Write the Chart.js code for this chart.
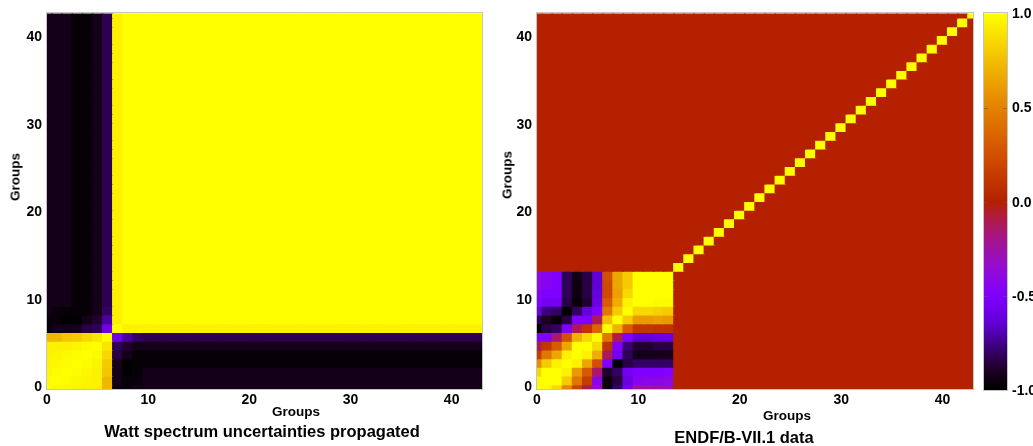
<!DOCTYPE html>
<html>
<head>
<meta charset="utf-8">
<script src="https://cdn.jsdelivr.net/npm/chart.js@4.4.0/dist/chart.umd.min.js"></script>
<style>
  body { margin: 0; background: #fff; }
  #page { position: relative; width: 1033px; height: 446px; overflow: hidden;
          font-family: "Liberation Sans", Arial, sans-serif; font-weight: bold; color: #000; }
  .panel { position: absolute; top: 0; }
  .txt { position: absolute; transform: translate(-50%, -50%); white-space: nowrap; }
  .axis { font-size: 13.5px; }
  .title { font-size: 16.5px; }
  .vert { transform: translate(-50%, -50%) rotate(-90deg); }
</style>
</head>
<body>
<div id="page">
  <canvas id="wattChart" class="panel" width="490" height="446" style="left:0"></canvas>
  <canvas id="endfChart" class="panel" width="490" height="446" style="left:490px"></canvas>
  <canvas id="scaleChart" class="panel" width="53" height="446" style="left:980px"></canvas>

  <div class="txt axis vert" style="left:15px;top:177px">Groups</div>
  <div class="txt axis" style="left:296px;top:411px">Groups</div>
  <div class="txt title" style="left:262px;top:431px">Watt spectrum uncertainties propagated</div>

  <div class="txt axis vert" style="left:507px;top:175px">Groups</div>
  <div class="txt axis" style="left:787px;top:415px">Groups</div>
  <div class="txt title" style="left:744px;top:437px">ENDF/B-VII.1 data</div>
</div>
<script>
// groups 0..43, axis shown from 0 to 43
const groupCount = 44;
const groupAxisMax = 43;
const groupTicks = [0, 10, 20, 30, 40];
const colorTicks = [-1, -0.5, 0, 0.5, 1];

// colour map (value -> rgb)
const paletteStops = [-1, -0.9, -0.8, -0.65, -0.5, -0.35, -0.2, -0.08, 0, 0.25, 0.5, 0.75, 1];
const paletteRgb = [
  [0, 0, 0], [28, 0, 34], [52, 0, 100], [96, 0, 212], [128, 0, 255], [148, 12, 210],
  [165, 20, 140], [176, 28, 64], [180, 32, 0], [210, 80, 0], [228, 130, 0], [242, 190, 0], [255, 255, 0]
];

// --- left: Watt spectrum, groups 0-6 (fast) and 7-43 (slow) ---
const wattFastBlock = [
  [1.00, 0.98, 0.97, 0.96, 0.95, 0.95, 0.72],
  [0.98, 1.00, 0.99, 0.97, 0.96, 0.95, 0.72],
  [0.97, 0.99, 1.00, 0.99, 0.97, 0.95, 0.78],
  [0.96, 0.97, 0.99, 1.00, 0.99, 0.96, 0.80],
  [0.95, 0.96, 0.97, 0.99, 1.00, 0.98, 0.85],
  [0.95, 0.95, 0.95, 0.96, 0.98, 1.00, 0.90],
  [0.72, 0.72, 0.78, 0.80, 0.85, 0.90, 1.00]
];
// fast groups 0-6 against slow groups 7, 8, 9
const wattCrossNear = [
  [-0.97, -0.97, -0.93],
  [-0.93, -0.97, -0.97],
  [-0.93, -1.00, -0.98],
  [-0.92, -1.00, -0.98],
  [-0.85, -0.93, -0.98],
  [-0.82, -0.88, -0.93],
  [-0.58, -0.72, -0.80]
];
// fast groups 0-6 against slow groups 10-43
const wattCrossFar = [-0.93, -0.93, -0.93, -0.98, -0.98, -0.93, -0.83];
// group 7 against the other slow groups
const wattSlowEdge = 0.95;

// --- right: ENDF/B-VII.1, groups 0-13 block (row 0 first), diagonal elsewhere ---
const endfBlock = [
  [1.00, 0.98, 0.85, 0.52, 0.20, -0.10, -0.35, -1.00, -0.80, -0.55, -0.22, -0.22, -0.25, -0.30],
  [0.98, 1.00, 1.00, 0.80, 0.45, 0.15, -0.42, -0.95, -0.85, -0.60, -0.45, -0.42, -0.42, -0.40],
  [0.85, 1.00, 1.00, 0.95, 0.60, 0.30, -0.15, -0.88, -0.80, -0.55, -0.50, -0.50, -0.50, -0.48],
  [0.55, 0.80, 0.95, 1.00, 0.95, 0.65, 0.25, -0.50, -1.00, -0.85, -0.80, -0.80, -0.80, -0.80],
  [0.15, 0.45, 0.65, 0.95, 1.00, 0.95, 0.68, -0.12, -0.55, -0.82, -0.93, -0.93, -0.93, -0.92],
  [-0.10, 0.12, 0.30, 0.65, 1.00, 1.00, 0.85, 0.10, -0.50, -0.78, -0.88, -0.88, -0.85, -0.85],
  [-0.50, -0.48, -0.15, 0.25, 0.70, 0.85, 1.00, 0.45, -0.10, -0.50, -0.65, -0.65, -0.62, -0.60],
  [-1.00, -0.85, -0.80, -0.50, -0.12, 0.10, 0.35, 1.00, 0.70, 0.30, 0.12, 0.12, 0.10, 0.10],
  [-0.82, -0.90, -0.98, -0.85, -0.50, -0.50, -0.10, 0.75, 1.00, 0.80, 0.60, 0.60, 0.62, 0.60],
  [-0.60, -0.77, -0.80, -1.00, -0.80, -0.62, -0.50, 0.45, 0.80, 1.00, 0.85, 0.85, 0.82, 0.80],
  [-0.50, -0.55, -0.55, -0.85, -0.97, -0.88, -0.60, 0.30, 0.68, 0.95, 1.00, 1.00, 0.98, 0.98],
  [-0.45, -0.50, -0.50, -0.82, -0.95, -0.85, -0.62, 0.22, 0.62, 0.85, 1.00, 1.00, 1.00, 1.00],
  [-0.40, -0.45, -0.50, -0.82, -0.95, -0.85, -0.65, 0.22, 0.65, 0.80, 1.00, 1.00, 1.00, 1.00],
  [-0.40, -0.45, -0.50, -0.82, -0.93, -0.85, -0.65, 0.25, 0.65, 0.80, 1.00, 1.00, 1.00, 1.00]
];

function wattValue(row, col) {
  const nFast = wattFastBlock.length;
  if (row < nFast && col < nFast) return wattFastBlock[row][col];
  if (row < nFast || col < nFast) {
    const a = Math.min(row, col), b = Math.max(row, col) - nFast;
    return b < wattCrossNear[a].length ? wattCrossNear[a][b] : wattCrossFar[a];
  }
  if (row === col) return 1;
  return (row === nFast || col === nFast) ? wattSlowEdge : 1;
}

function endfValue(row, col) {
  const n = endfBlock.length;
  if (row < n && col < n) return endfBlock[row][col];
  return row === col ? 1 : 0;
}

function rgbAt(v) {
  v = Math.max(-1, Math.min(1, v));
  for (let i = 1; i < paletteStops.length; i++) {
    if (v <= paletteStops[i]) {
      const t = (v - paletteStops[i - 1]) / (paletteStops[i] - paletteStops[i - 1]);
      const a = paletteRgb[i - 1], b = paletteRgb[i];
      return 'rgb(' + a.map((c, k) => Math.round(c + (b[k] - c) * t)).join(',') + ')';
    }
  }
  return 'rgb(255,255,0)';
}

function heatmapDataset(valueAt) {
  const cells = [];
  const colors = [];
  for (let row = 0; row < groupCount; row++) {
    for (let col = 0; col < groupCount; col++) {
      cells.push({ x: col, y: [row - 0.5, row + 0.5] });
      colors.push(rgbAt(valueAt(row, col)));
    }
  }
  return {
    data: cells,
    backgroundColor: colors,
    borderWidth: 0,
    inflateAmount: 0.7,   // overlap neighbours a little so no seams show
    barPercentage: 1,
    categoryPercentage: 1,
    clip: 0
  };
}

Chart.defaults.font.family = '"Liberation Sans", Arial, sans-serif';
Chart.defaults.font.weight = 'bold';
Chart.defaults.font.size = 14;
Chart.defaults.color = '#000';

const framePlugin = {
  id: 'frame',
  afterDatasetsDraw(chart) {
    const { ctx, chartArea: a } = chart;
    ctx.save();
    ctx.strokeStyle = '#c4c4c4';
    ctx.lineWidth = 1;
    ctx.strokeRect(Math.round(a.left) - 0.5, Math.round(a.top) - 0.5,
                   Math.round(a.right - a.left) + 1, Math.round(a.bottom - a.top) + 1);
    ctx.restore();
  }
};

function groupAxis(extra) {
  return Object.assign({
    type: 'linear',
    min: 0,
    max: groupAxisMax,
    offset: false,
    grid: { display: false, drawTicks: false },
    border: { display: false },
    afterBuildTicks: s => { s.ticks = groupTicks.map(v => ({ value: v })); },
    ticks: { autoSkip: false, maxRotation: 0, font: { size: 14, weight: 'bold' } }
  }, extra);
}

function heatmap(canvasId, valueAt, rightPad) {
  return new Chart(document.getElementById(canvasId), {
    type: 'bar',
    data: { datasets: [heatmapDataset(valueAt)] },
    options: {
      responsive: false,
      animation: false,
      events: [],
      layout: { padding: { top: 13, right: rightPad, left: 0, bottom: 0 } },
      plugins: { legend: { display: false }, tooltip: { enabled: false } },
      scales: {
        x: groupAxis({
          afterFit: s => { s.height = 57; },
          ticks: { autoSkip: false, maxRotation: 0, padding: 3, font: { size: 14, weight: 'bold' } }
        }),
        y: groupAxis({
          afterFit: s => { s.width = 47; },
          ticks: { autoSkip: false, padding: 5, labelOffset: -2, font: { size: 14, weight: 'bold' } }
        })
      }
    },
    plugins: [framePlugin]
  });
}

heatmap('wattChart', wattValue, 8);
heatmap('endfChart', endfValue, 7);

// colour bar
const colorBarPlugin = {
  id: 'colorBar',
  beforeDatasetsDraw(chart) {
    const { ctx, chartArea: a } = chart;
    const y = chart.scales.y;
    const grad = ctx.createLinearGradient(0, y.getPixelForValue(-1), 0, y.getPixelForValue(1));
    paletteStops.forEach((s, i) => grad.addColorStop((s + 1) / 2, 'rgb(' + paletteRgb[i].join(',') + ')'));
    ctx.save();
    ctx.fillStyle = grad;
    ctx.fillRect(a.left, a.top, a.right - a.left, a.bottom - a.top);
    ctx.strokeStyle = 'rgba(90,90,90,0.6)';
    ctx.lineWidth = 1;
    colorTicks.forEach(v => {
      if (v <= -1 || v >= 1) return;
      const py = Math.round(y.getPixelForValue(v)) + 0.5;
      ctx.beginPath();
      ctx.moveTo(a.left, py); ctx.lineTo(a.left + 4, py);
      ctx.moveTo(a.right - 4, py); ctx.lineTo(a.right, py);
      ctx.stroke();
    });
    ctx.strokeStyle = '#c4c4c4';
    ctx.strokeRect(Math.round(a.left) - 0.5, Math.round(a.top) - 0.5,
                   Math.round(a.right - a.left) + 1, Math.round(a.bottom - a.top) + 1);
    ctx.restore();
  }
};

new Chart(document.getElementById('scaleChart'), {
  type: 'scatter',
  data: { datasets: [] },
  options: {
    responsive: false,
    animation: false,
    events: [],
    layout: { padding: { top: 13, left: 4, right: 0, bottom: 56 } },
    plugins: { legend: { display: false }, tooltip: { enabled: false } },
    scales: {
      x: { type: 'linear', display: false },
      y: {
        type: 'linear',
        position: 'right',
        min: -1,
        max: 1,
        grid: { display: false, drawTicks: false },
        border: { display: false },
        afterFit: s => { s.width = 26; },
        afterBuildTicks: s => { s.ticks = colorTicks.map(v => ({ value: v })); },
        ticks: {
          padding: 5,
          labelOffset: 1,
          font: { size: 14, weight: 'bold' },
          callback: v => v.toFixed(1)
        }
      }
    }
  },
  plugins: [colorBarPlugin]
});
</script>
</body>
</html>
